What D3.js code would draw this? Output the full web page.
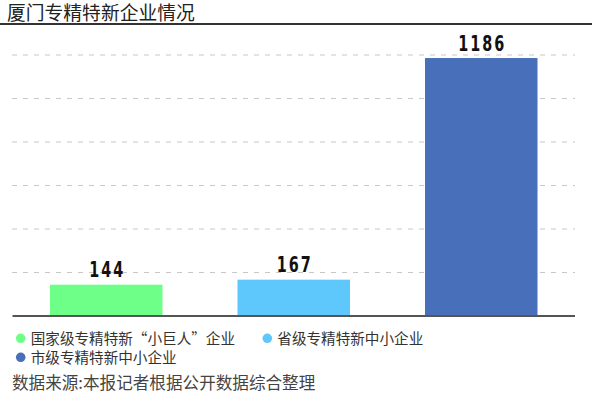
<!DOCTYPE html>
<html><head><meta charset="utf-8">
<script src="https://cdn.jsdelivr.net/npm/d3@7"></script>
<style>html,body{margin:0;padding:0;background:#fff;}</style>
</head><body>
<script>
const categories = ["国家级专精特新“小巨人”企业", "省级专精特新中小企业", "市级专精特新中小企业"];
const values = [144, 167, 1186];
const colors = ["#6EFF88", "#5EC8FC", "#486FB9"];
const gridTicks = [200, 400, 600, 800, 1000, 1200];
const title = "厦门专精特新企业情况";
const source = "数据来源:本报记者根据公开数据综合整理";

const W = 592, H = 397;
const svg = d3.select("body").append("svg").attr("width", W).attr("height", H);
const cjk = "'Noto Sans CJK SC', 'Noto Sans', sans-serif";

svg.append("text").attr("x", 7).attr("y", 19.5).text(title)
  .attr("font-family", cjk).attr("font-size", 18.8).attr("fill", "#222");
svg.append("line").attr("x1", 0).attr("x2", W).attr("y1", 24).attr("y2", 24)
  .attr("stroke", "#333").attr("stroke-width", 2);

const x = d3.scaleBand().domain(categories).range([12.5, 575]).paddingInner(0.4).paddingOuter(0.2);
const y = d3.scaleLinear().domain([0, 1200]).range([316, 55]);

svg.append("g").selectAll("line").data(gridTicks).join("line")
  .attr("x1", 12).attr("x2", 575).attr("y1", d => y(d)).attr("y2", d => y(d))
  .attr("stroke", "#c8c8c8").attr("stroke-width", 1.2).attr("stroke-dasharray", "5,6");

svg.append("g").selectAll("rect").data(values).join("rect")
  .attr("x", (d, i) => x(categories[i])).attr("width", x.bandwidth())
  .attr("y", d => y(d)).attr("height", d => y(0) - y(d))
  .attr("fill", (d, i) => colors[i]);

svg.append("line").attr("x1", 12.5).attr("x2", 575).attr("y1", y(0)).attr("y2", y(0))
  .attr("stroke", "#555").attr("stroke-width", 2);

svg.append("g").selectAll("text").data(values).join("text")
  .attr("transform", (d, i) => `translate(${x(categories[i]) + x.bandwidth() / 2 + 1},${y(d) - 7.5}) scale(0.8,1.02)`)
  .attr("text-anchor", "middle")
  .attr("font-family", "'DejaVu Sans Condensed', 'DejaVu Sans', sans-serif")
  .attr("font-weight", "bold").attr("font-size", 20).attr("letter-spacing", 2.5)
  .attr("fill", "#111").text(d => d);

const legendPos = [[20.7, 338.3], [267.3, 338.3], [20.7, 357.3]];
const lg = svg.append("g").selectAll("g").data(categories).join("g")
  .attr("transform", (d, i) => `translate(${legendPos[i][0]},${legendPos[i][1]})`);
lg.append("circle").attr("r", 4.8).attr("fill", (d, i) => colors[i]);
lg.append("text").attr("x", 10).attr("y", 5.2).text(d => d)
  .attr("font-family", cjk).attr("font-size", 14.6).attr("fill", "#333");

svg.append("text").attr("x", 12).attr("y", 389).text(source)
  .attr("font-family", cjk).attr("font-size", 16.6).attr("fill", "#444");
</script>
</body></html>
